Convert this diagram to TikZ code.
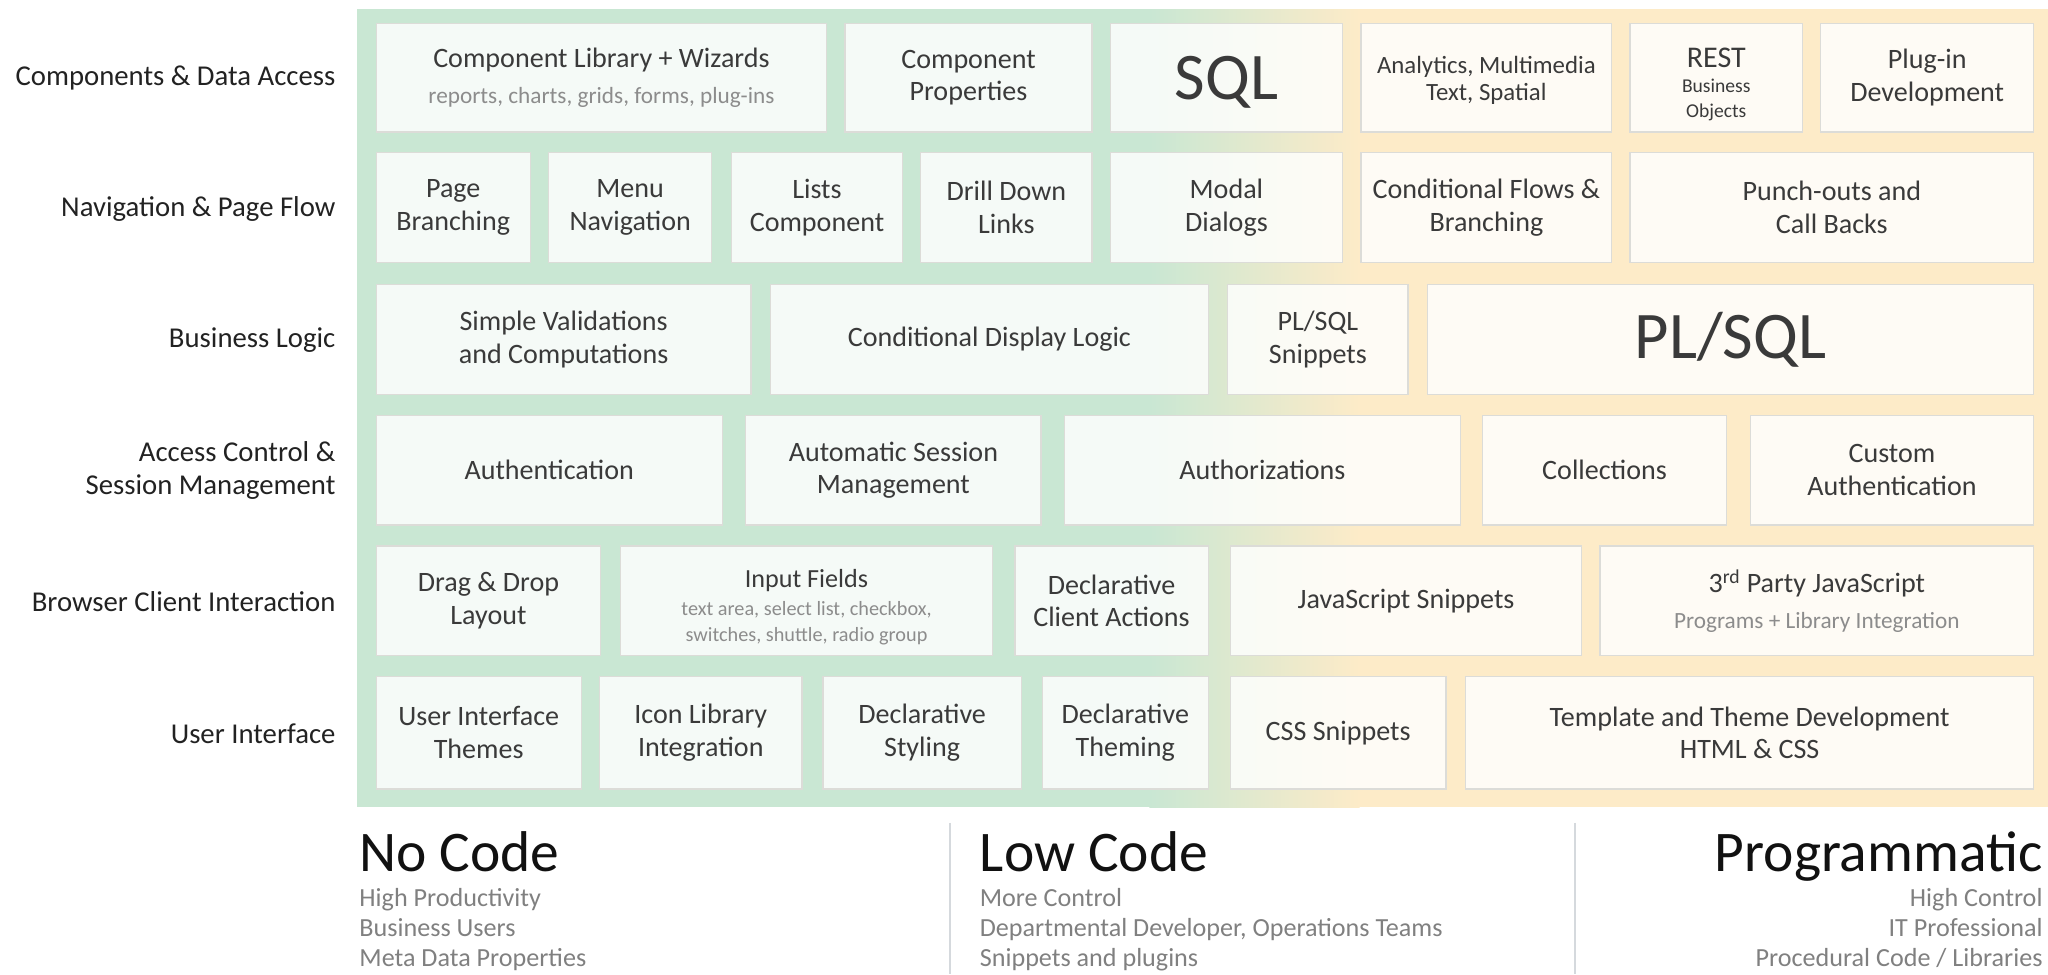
\documentclass[tikz,border=0pt]{standalone}
\usepackage{fontspec}
\setmainfont{Carlito}
\definecolor{panelgreen}{HTML}{C9E7D3}
\definecolor{panelcream}{HTML}{FDEBC8}
\definecolor{cellline}{HTML}{DCDCD8}
\definecolor{celltext}{HTML}{3A3A3A}
\definecolor{subtext}{HTML}{8C8C8C}
\definecolor{labeltext}{HTML}{222222}
\definecolor{seprule}{HTML}{D5D9DD}
\definecolor{titletext}{HTML}{111111}
\definecolor{notetext}{HTML}{808080}

\tikzset{
  cell/.style={draw=cellline, line width=1pt, fill=white, fill opacity=0.82,
    text opacity=1, text=celltext, align=center, inner sep=0pt,
    font=\fontsize{21.5}{25}\selectfont},
  rowlabel/.style={anchor=east, align=right, text=labeltext, inner sep=0pt,
    font=\fontsize{22}{25}\selectfont},
  title/.style={inner sep=0pt, text=titletext, font=\fontsize{44}{44}\selectfont},
  note/.style={inner sep=0pt, text=notetext, font=\fontsize{20}{23}\selectfont},
  divider/.style={draw=seprule, line width=1.6pt}
}

% one rectangular cell given by its left, top, right and bottom edges
\newcommand\mkcell[7][]{%
  \node[cell, #1, minimum width={#5-#3}, minimum height={#6-#4}]
    (#2) at ({(#3+#5)/2},{(#4+#6)/2}) {#7};}
\newcommand\minorfont{\fontsize{17.8}{20}\selectfont\color{subtext}}

\begin{document}
\begin{tikzpicture}[x=1pt, y=-1pt]
\useasboundingbox (0,0) rectangle (1568,746);
\clip (0,0) rectangle (1568,746);

% background panel: green on the left, cream on the right
\fill[panelgreen] (273,7) rectangle (881,618);
\shade[left color=panelgreen, right color=panelcream] (880,7) rectangle (1041,618);
\fill[panelcream] (1040,7) rectangle (1568,618);

% row labels
\node[rowlabel] (lab1) at (257,60)  {Components \& Data Access};
\node[rowlabel] (lab2) at (257,160) {Navigation \& Page Flow};
\node[rowlabel] (lab3) at (257,260) {Business Logic};
\node[rowlabel] (lab4) at (257,360) {Access Control \&\\Session Management};
\node[rowlabel] (lab5) at (257,461) {Browser Client Interaction};
\node[rowlabel] (lab6) at (257,562) {User Interface};

% row 1: components and data access
\mkcell{complib}{288}{18}{633}{101}{Component Library + Wizards\\[2pt]{\minorfont reports, charts, grids, forms, plug-ins}}
\mkcell{compprop}{647}{18}{836}{101}{Component\\Properties}
\mkcell[font=\fontsize{51}{51}\selectfont]{sql}{850}{18}{1028}{101}{\rule{0pt}{40pt}SQL}
\mkcell[font=\fontsize{19}{21}\selectfont]{analytics}{1042}{18}{1234}{101}{\rule{0pt}{17pt}Analytics, Multimedia\\Text, Spatial}
\mkcell[font=\fontsize{23}{22}\selectfont]{rest}{1248}{18}{1380}{101}{\rule{0pt}{25pt}REST\\[-3pt]{\fontsize{15}{16}\selectfont Business}\\[-3pt]{\fontsize{15}{16}\selectfont Objects}}
\mkcell{plugin}{1394}{18}{1557}{101}{Plug-in\\Development}

% row 2: navigation and page flow
\mkcell{pagebr}{288}{117}{406}{201}{Page\\Branching}
\mkcell{menunav}{420}{117}{545}{201}{Menu\\Navigation}
\mkcell{lists}{560}{117}{691}{201}{Lists\\Component}
\mkcell{drill}{705}{117}{836}{201}{Drill Down\\Links}
\mkcell{modal}{850}{117}{1028}{201}{Modal\\Dialogs}
\mkcell{condflow}{1042}{117}{1234}{201}{Conditional Flows \&\\Branching}
\mkcell{punch}{1248}{117}{1557}{201}{Punch-outs and\\Call Backs}

% row 3: business logic
\mkcell{simple}{288}{218}{575}{302}{Simple Validations\\and Computations}
\mkcell{conddisp}{590}{218}{925}{302}{Conditional Display Logic}
\mkcell{plsnip}{940}{218}{1078}{302}{PL/SQL\\Snippets}
\mkcell[font=\fontsize{51}{51}\selectfont]{plsql}{1093}{218}{1557}{302}{PL/SQL}

% row 4: access control and session management
\mkcell{authn}{288}{318}{553}{402}{Authentication}
\mkcell{autosess}{571}{318}{797}{402}{Automatic Session\\Management}
\mkcell{authz}{815}{318}{1118}{402}{Authorizations}
\mkcell{coll}{1135}{318}{1322}{402}{Collections}
\mkcell{custom}{1340}{318}{1557}{402}{Custom\\Authentication}

% row 5: browser client interaction
\mkcell{dragdrop}{288}{418}{460}{502}{Drag \& Drop\\Layout}
\mkcell{input}{475}{418}{760}{502}{{\fontsize{20}{22}\selectfont\rule{0pt}{24pt}Input Fields}\\[-4pt]{\fontsize{15.5}{18}\selectfont\color{subtext}text area, select list, checkbox,}\\[-5pt]{\fontsize{15.5}{18}\selectfont\color{subtext}switches, shuttle, radio group}}
\mkcell{declact}{777}{418}{925}{502}{Declarative\\Client Actions}
\mkcell{jssnip}{942}{418}{1211}{502}{JavaScript Snippets}
\mkcell{thirdparty}{1225}{418}{1557}{502}{3\textsuperscript{rd} Party JavaScript\\[2pt]{\minorfont Programs + Library Integration}}

% row 6: user interface
\mkcell{uithemes}{288}{518}{445}{604}{User Interface\\Themes}
\mkcell{iconlib}{459}{518}{614}{604}{Icon Library\\Integration}
\mkcell{declstyle}{630}{518}{782}{604}{Declarative\\Styling}
\mkcell{decltheme}{798}{518}{925}{604}{Declarative\\Theming}
\mkcell{csssnip}{942}{518}{1107}{604}{CSS Snippets}
\mkcell{template}{1122}{518}{1557}{604}{Template and Theme Development\\HTML \& CSS}

% dividers between the three approaches
\coordinate (divA) at (727,630);
\coordinate (divAend) at (727,746);
\coordinate (divB) at (1206,630);
\coordinate (divBend) at (1206,746);
\draw[divider] (divA) -- (divAend);
\draw[divider] (divB) -- (divBend);

% no code
\node[title, anchor=base west] (nocode) at (275,667) {No Code};
\node[note, anchor=base west] (nc1) at (275,694) {High Productivity};
\node[note, anchor=base west] (nc2) at (275,717) {Business Users};
\node[note, anchor=base west] (nc3) at (275,740) {Meta Data Properties};

% low code
\node[title, anchor=base west] (lowcode) at (750,667) {Low Code};
\node[note, anchor=base west] (lc1) at (750,694) {More Control};
\node[note, anchor=base west] (lc2) at (750,717) {Departmental Developer, Operations Teams};
\node[note, anchor=base west] (lc3) at (750,740) {Snippets and plugins};

% programmatic
\node[title, anchor=base east] (prog) at (1564,667) {Programmatic};
\node[note, anchor=base east] (pg1) at (1564,694) {High Control};
\node[note, anchor=base east] (pg2) at (1564,717) {IT Professional};
\node[note, anchor=base east] (pg3) at (1564,740) {Procedural Code / Libraries};
\end{tikzpicture}
\end{document}
